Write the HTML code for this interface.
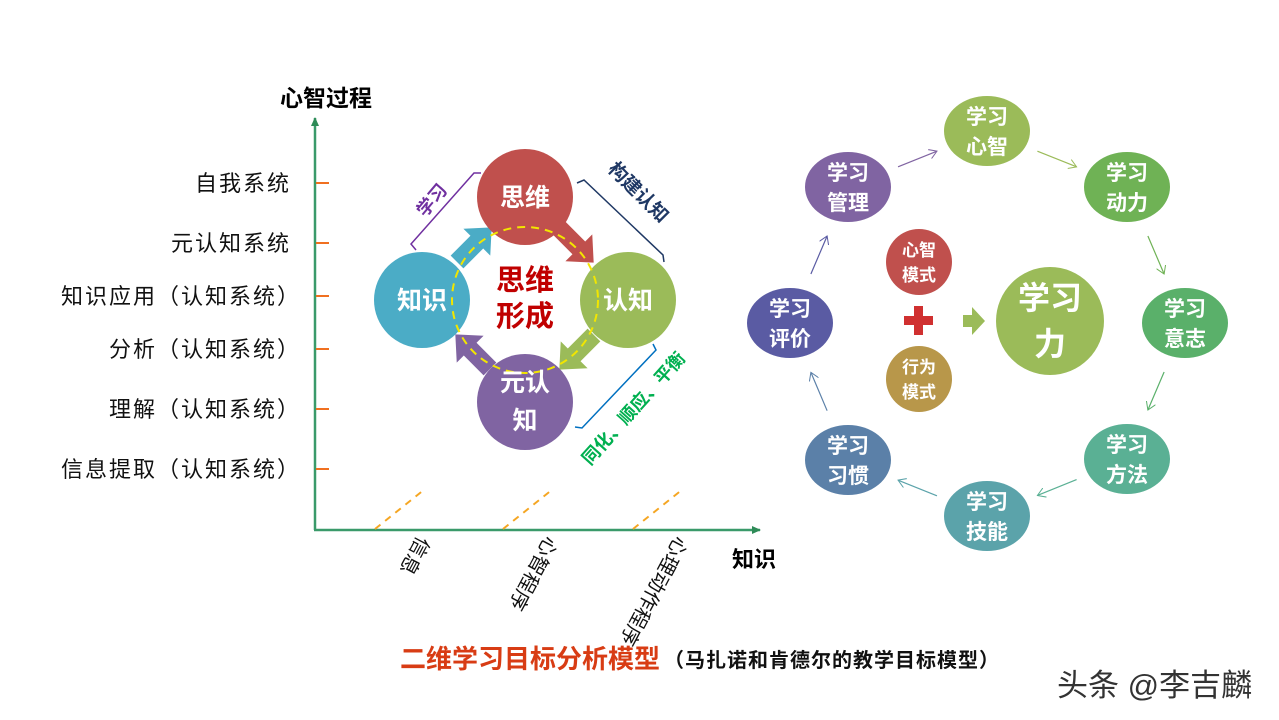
<!DOCTYPE html>
<html><head><meta charset="utf-8"><style>
html,body{margin:0;padding:0;background:#fff;}
svg{display:block;font-family:"Liberation Sans","Noto Sans CJK SC",sans-serif;}
.lbl{font-size:22px;fill:#111;letter-spacing:2px;}
.wt{fill:#fff;font-weight:bold;text-anchor:middle;}
</style></head><body>
<svg width="1279" height="720" viewBox="0 0 1279 720">
<defs>
<marker id="ag" markerWidth="10" markerHeight="10" refX="8" refY="5" orient="auto" markerUnits="userSpaceOnUse"><path d="M0,1 L9,5 L0,9 z" fill="#2e8b57"/></marker>
<marker id="thin" markerWidth="10" markerHeight="10" refX="8" refY="5" orient="auto" markerUnits="userSpaceOnUse"><path d="M0,0 L8,5 L0,10" fill="none" stroke="context-stroke" stroke-width="1"/></marker>
</defs>
<g>
<line x1="315" y1="530" x2="315" y2="118" stroke="#3a9a6a" stroke-width="2.5" marker-end="url(#ag)"/>
<line x1="314" y1="530" x2="760" y2="530" stroke="#3a9a6a" stroke-width="2.5" marker-end="url(#ag)"/>
<text x="280" y="106" font-size="23" font-weight="bold">心智过程</text>
<text x="732" y="567" font-size="22" font-weight="bold">知识</text>
</g>
<g id="ticks"></g>
<g id="xcat"></g>

<g>
<path d="M-24,-9 L4,-9 L4,-19 L25,0 L4,19 L4,9 L-24,9 Z" fill="#4bacc6" transform="translate(474,245) rotate(-45)"/>
<path d="M-24,-9 L4,-9 L4,-19 L25,0 L4,19 L4,9 L-24,9 Z" fill="#c0504d" transform="translate(576,245) rotate(45)"/>
<path d="M-24,-9 L4,-9 L4,-19 L25,0 L4,19 L4,9 L-24,9 Z" fill="#9bbb59" transform="translate(577,352) rotate(135)"/>
<path d="M-24,-9 L4,-9 L4,-19 L25,0 L4,19 L4,9 L-24,9 Z" fill="#8064a2" transform="translate(473,352) rotate(-135)"/>
</g>
<circle cx="525" cy="197" r="48" fill="#c0504d"/>
<circle cx="628" cy="300" r="48" fill="#9bbb59"/>
<circle cx="422" cy="300" r="48" fill="#4bacc6"/>
<circle cx="525" cy="402" r="48" fill="#8064a2"/>
<circle cx="525" cy="300" r="73" fill="none" stroke="#f2e600" stroke-width="2" stroke-dasharray="8,6"/>
<text class="wt" x="525" y="206" font-size="25">思维</text>
<text class="wt" x="628" y="309" font-size="25">认知</text>
<text class="wt" x="422" y="309" font-size="25">知识</text>
<text class="wt" x="525" y="391" font-size="25">元认</text>
<text class="wt" x="525" y="429" font-size="25">知</text>
<text x="525" y="290" font-size="29" font-weight="bold" fill="#c00000" text-anchor="middle">思维</text>
<text x="525" y="326" font-size="29" font-weight="bold" fill="#c00000" text-anchor="middle">形成</text>
<path d="M416,250 L411,244 L474,173 L481,173" fill="none" stroke="#7030a0" stroke-width="1.5"/>
<text x="0" y="0" font-size="18" font-weight="bold" fill="#7030a0" transform="translate(425,218) rotate(-50)">学习</text>
<path d="M577,183 L584,180 L663,255 L664,262" fill="none" stroke="#1f3864" stroke-width="1.5"/>
<text x="0" y="0" font-size="19" font-weight="bold" fill="#1f3864" transform="translate(607,170) rotate(45)">构建认知</text>
<path d="M653,344 L656,350 L582,428 L575,427" fill="none" stroke="#0070c0" stroke-width="1.5"/>
<text x="0" y="0" font-size="18" font-weight="bold" fill="#00b050" transform="translate(590,466) rotate(-48)">同化、顺应、平衡</text>

<g id="ring"></g>
<circle cx="1050" cy="321" r="54" fill="#9bbb59"/>
<text class="wt" x="1050" y="309" font-size="32">学习</text>
<text class="wt" x="1050" y="355" font-size="32">力</text>
<circle cx="919" cy="262" r="33" fill="#c0504d"/>
<text class="wt" x="919" y="256" font-size="17">心智</text>
<text class="wt" x="919" y="281" font-size="17">模式</text>
<circle cx="919" cy="379" r="33" fill="#b8974a"/>
<text class="wt" x="919" y="373" font-size="17">行为</text>
<text class="wt" x="919" y="398" font-size="17">模式</text>
<path d="M914,306 h9 v10 h10 v9 h-10 v10 h-9 v-10 h-10 v-9 h10 z" fill="#d03030"/>
<path d="M963,315 h9 v-8 l13,14 l-13,14 v-8 h-9 z" fill="#9bbb59"/>

<text x="400" y="668" font-size="26" font-weight="bold" fill="#d83c14">二维学习目标分析模型</text>
<text x="664" y="667" font-size="20" font-weight="bold" fill="#111" letter-spacing="1">（马扎诺和肯德尔的教学目标模型）</text>
<text x="1057" y="696" font-size="31" fill="#333">头条 @李吉麟</text>

<script>
const levels = ["自我系统","元认知系统","知识应用（认知系统）","分析（认知系统）","理解（认知系统）","信息提取（认知系统）"];
const levelY = [183,243,296,349,409,469];
const cats = ["信息","心智程序","心理动作程序"];
const catX = [375,503,633];
const ringNames = [["学习","心智"],["学习","动力"],["学习","意志"],["学习","方法"],["学习","技能"],["学习","习惯"],["学习","评价"],["学习","管理"]];
const ringColors = ["#9bbb59","#6fb255","#5ab06a","#5ab094","#5ba3aa","#5b80a8","#5a5ba3","#8064a2"];
const NS="http://www.w3.org/2000/svg";
function mk(t,a,p){const e=document.createElementNS(NS,t);for(const k in a)e.setAttribute(k,a[k]);p.appendChild(e);return e;}
const tg=document.getElementById('ticks');
levels.forEach((l,i)=>{
  const ln=mk('line',{x1:316,x2:329,y1:levelY[i],y2:levelY[i],stroke:'#f07020','stroke-width':2},tg);
  
  
  const isParen=l.endsWith('）');
  const t=mk('text',{x:isParen?301:291,y:levelY[i]+8,'text-anchor':'end',class:'lbl'},tg);
  t.textContent=l;
  
  
});
const xg=document.getElementById('xcat');
cats.forEach((c,i)=>{
  const x=catX[i];
  const d=mk('line',{x1:x,y1:529,x2:x+50,y2:489,stroke:'#f5a623','stroke-width':2,'stroke-dasharray':'7,6'},xg);
  
  
  const t=mk('text',{x:0,y:0,'font-size':20,fill:'#111',transform:`translate(${x+43},${535}) rotate(118)`},xg);
  t.textContent=c;
  
  
});
const rg=document.getElementById('ring');
const P=[[987,131],[1127,187],[1185,323],[1127,459],[987,516],[848,460],[790,323],[848,187]];
P.forEach((p,i)=>{
  const q=P[(i+1)%8];
  const dx=q[0]-p[0],dy=q[1]-p[1],L=Math.hypot(dx,dy);
  const ux=dx/L,uy=dy/L;
  const a=mk('line',{x1:p[0]+ux*(L*0.36),y1:p[1]+uy*(L*0.36),x2:p[0]+ux*(L*0.64),y2:p[1]+uy*(L*0.64),stroke:ringColors[i],'stroke-width':1.2,'marker-end':'url(#thin)'},rg);
  
  
});
P.forEach((p,i)=>{
  const e=mk('ellipse',{cx:p[0],cy:p[1],rx:43,ry:35,fill:ringColors[i]},rg);
  
  
  const t1=mk('text',{x:p[0],y:p[1]-7,class:'wt','font-size':21},rg);t1.textContent=ringNames[i][0];
  const t2=mk('text',{x:p[0],y:p[1]+23,class:'wt','font-size':21},rg);t2.textContent=ringNames[i][1];
});
</script>
</svg>
</body></html>
